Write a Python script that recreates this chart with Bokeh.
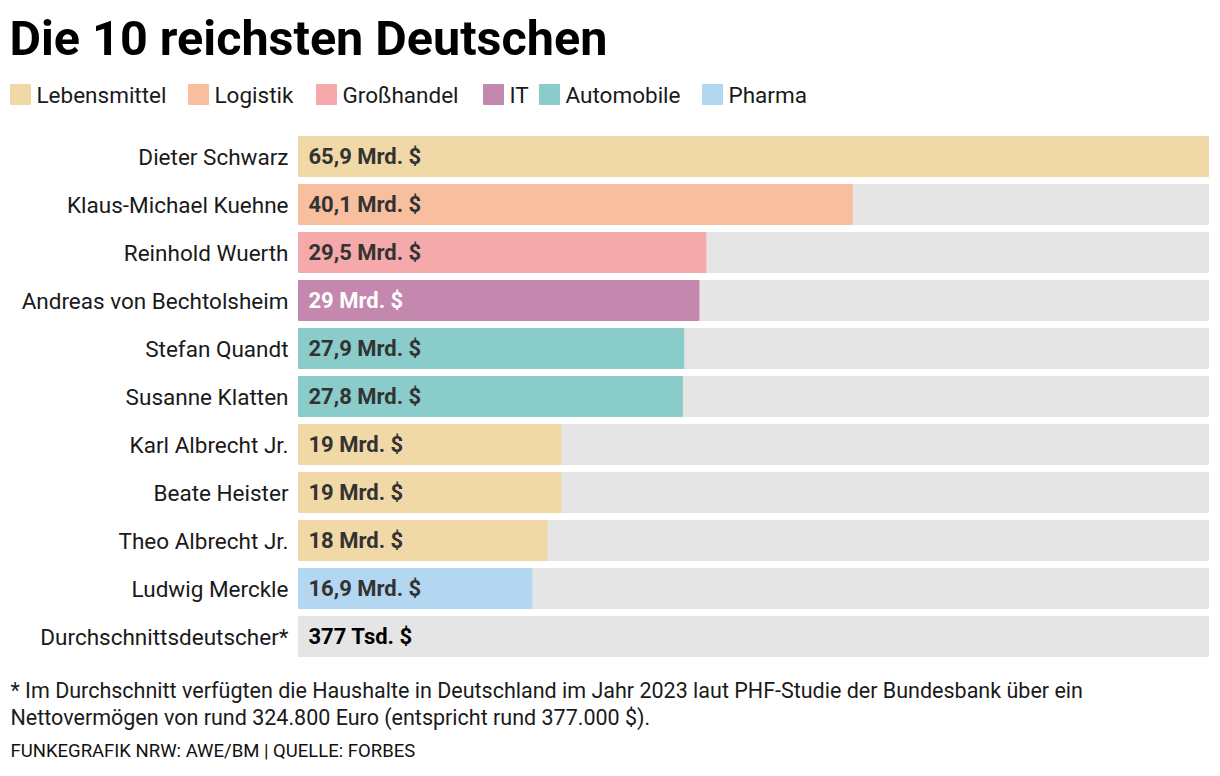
from bokeh.plotting import figure
from bokeh.models import Range1d, ColumnDataSource
from bokeh.core.properties import value
from bokeh.embed import file_html
from bokeh.resources import INLINE

FONT = "Roboto"

names = ["Dieter Schwarz", "Klaus-Michael Kuehne", "Reinhold Wuerth",
         "Andreas von Bechtolsheim", "Stefan Quandt", "Susanne Klatten",
         "Karl Albrecht Jr.", "Beate Heister", "Theo Albrecht Jr.",
         "Ludwig Merckle", "Durchschnittsdeutscher*"]
values = [65.9, 40.1, 29.5, 29.0, 27.9, 27.8, 19.0, 19.0, 18.0, 16.9, 0.377]
value_labels = ["65,9 Mrd. $", "40,1 Mrd. $", "29,5 Mrd. $", "29 Mrd. $",
                "27,9 Mrd. $", "27,8 Mrd. $", "19 Mrd. $", "19 Mrd. $",
                "18 Mrd. $", "16,9 Mrd. $", "377 Tsd. $"]
sectors = ["Lebensmittel", "Logistik", "Großhandel", "IT", "Automobile",
           "Automobile", "Lebensmittel", "Lebensmittel", "Lebensmittel",
           "Pharma", "Durchschnitt"]
legend_sectors = ["Lebensmittel", "Logistik", "Großhandel", "IT", "Automobile", "Pharma"]
sector_colors = {"Lebensmittel": "#f0d8a7", "Logistik": "#f8bf9f",
                 "Großhandel": "#f5a9aa", "IT": "#c487ae",
                 "Automobile": "#8accca", "Pharma": "#b3d7f0",
                 "Durchschnitt": "#e5e5e5"}
label_colors = {"Lebensmittel": "#333333", "Logistik": "#333333",
                "Großhandel": "#333333", "IT": "#ffffff",
                "Automobile": "#333333", "Pharma": "#333333",
                "Durchschnitt": "#000000"}
title_text = "Die 10 reichsten Deutschen"
note_lines = ["* Im Durchschnitt verfügten die Haushalte in Deutschland im Jahr 2023 laut PHF-Studie der Bundesbank über ein",
              "Nettovermögen von rund 324.800 Euro (entspricht rund 377.000 $)."]
source_text = "FUNKEGRAFIK NRW: AWE/BM | QUELLE: FORBES"

# ---- layout (pixels) ----
W, H = 1220, 776
BAR_L, BAR_R = 298, 1208      # pixel extent of the value axis
ROW0, ROW_H, BAR_H = 156, 48, 40

n = len(names)
max_val = max(values)


def xd(px):
    return (px - BAR_L) * max_val / (BAR_R - BAR_L)


def yd(py):
    return (n - 1) - (py - ROW0) / ROW_H


ys = [n - 1 - i for i in range(n)]

src = ColumnDataSource(dict(
    y=ys, name=names, val=values, lab=value_labels, full=[max_val] * n,
    color=[sector_colors[s] for s in sectors],
    tcolor=[label_colors[s] for s in sectors],
))

p = figure(width=W, height=H, output_backend="svg", toolbar_location=None,
           x_range=Range1d(xd(0), xd(W)), y_range=Range1d(yd(H), yd(0)),
           min_border=0, min_border_left=0, min_border_right=0,
           min_border_top=0, min_border_bottom=0)
p.outline_line_color = None
p.grid.visible = False
p.axis.visible = False
p.background_fill_color = "white"
p.border_fill_color = "white"

p.hbar(y="y", left=0, right="full", height=BAR_H / ROW_H, source=src, color="#e5e5e5")
p.hbar(y="y", left=0, right="val", height=BAR_H / ROW_H, source=src, color="color")
p.text(x=0, y="y", text="lab", source=src, x_offset=10, text_baseline="middle",
       text_align="left", text_font=value(FONT), text_font_style="bold",
       text_font_size="22px", text_color="tcolor")
p.text(x=0, y="y", text="name", source=src, x_offset=-10, text_baseline="middle",
       text_align="right", text_font=value(FONT), text_font_size="22.5px",
       text_color="#1a1a1a")


def txt(text, px, py, size, bold=False, color="#1a1a1a"):
    p.text(x=[xd(px)], y=[yd(py)], text=[text], text_baseline="middle", text_align="left",
           text_font=value(FONT), text_font_size=size,
           text_font_style="bold" if bold else "normal", text_color=color)


txt(title_text, 9, 38, "48.5px", bold=True, color="#000000")

leg_x = [10, 188, 316, 483, 539, 702]
for s, lx in zip(legend_sectors, leg_x):
    p.rect(x=[xd(lx + 10)], y=[yd(94)], width=xd(20) - xd(0), height=20 / ROW_H,
           color=sector_colors[s])
    txt(s, lx + 26, 94, "22.5px")

txt(note_lines[0], 10, 690, "21.5px")
txt(note_lines[1], 10, 717, "21.5px")
txt(source_text, 10, 750, "18.5px", color="#111111")

open("out.html", "w").write(file_html(p, INLINE))
